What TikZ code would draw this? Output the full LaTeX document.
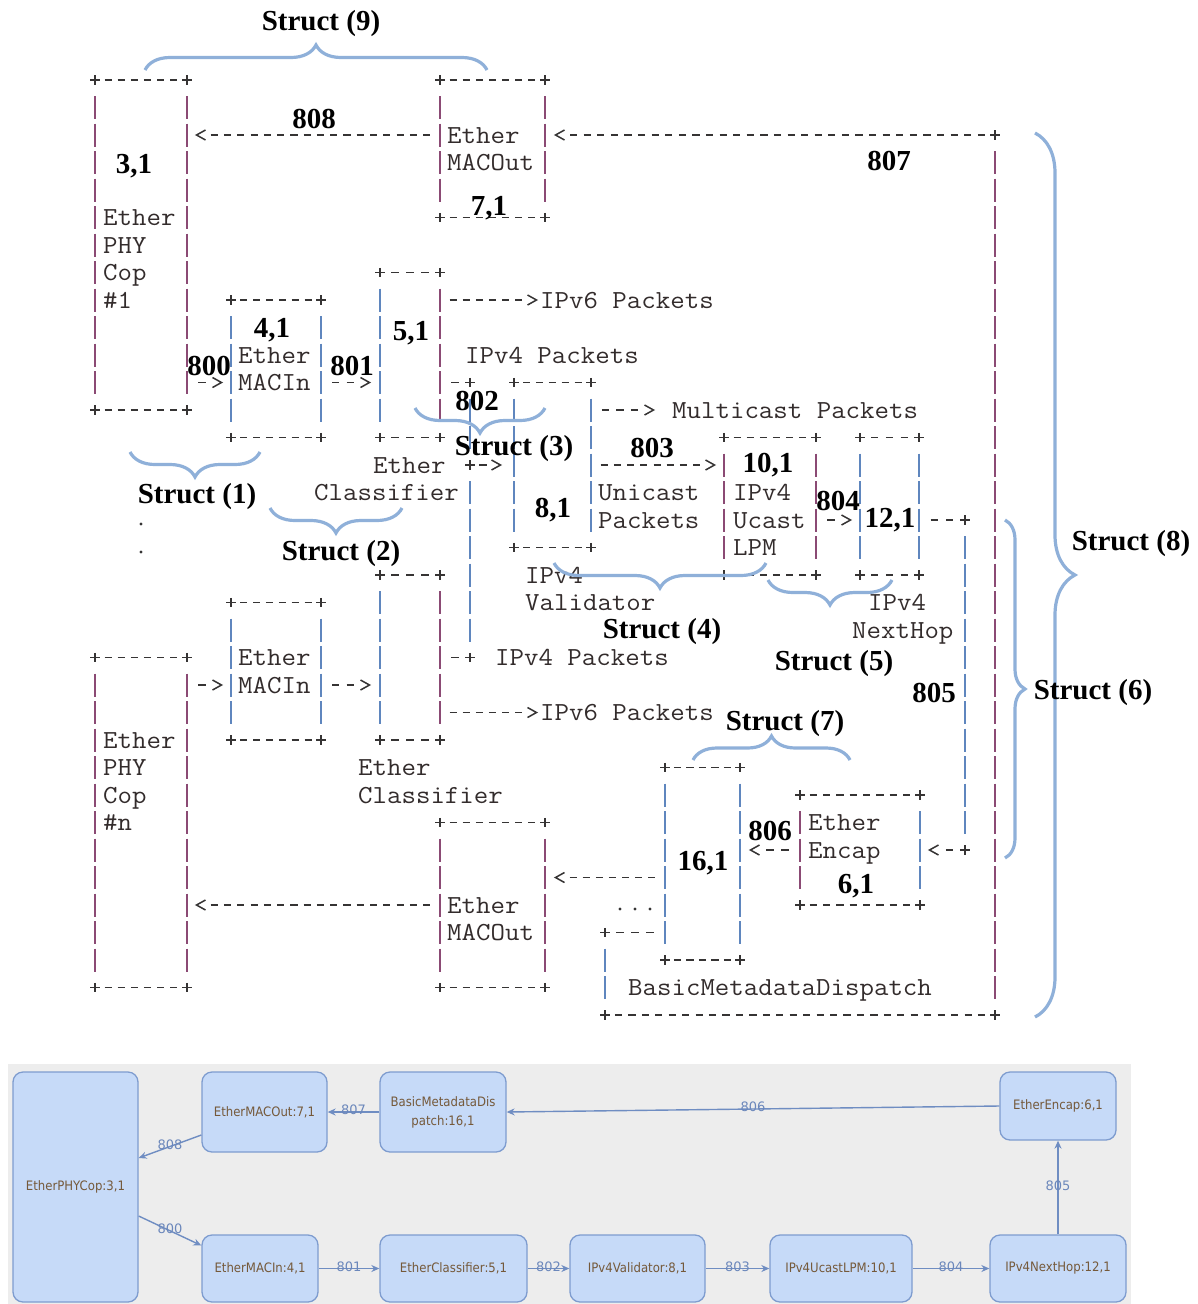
\documentclass[tikz,border=0pt]{standalone}
\usepackage{fontspec}
\usepackage{graphicx}
\usetikzlibrary{decorations.pathreplacing,arrows.meta}
\newfontfamily\labfont{Liberation Serif}
\newfontfamily\gfont{DejaVu Sans}

\definecolor{ink}{HTML}{363434}
\definecolor{txt}{HTML}{332C2C}
\definecolor{barP}{HTML}{8B4A74}
\definecolor{barB}{HTML}{5F86BE}
\definecolor{brcol}{HTML}{8FB0D9}
\definecolor{gbg}{HTML}{EDEDED}
\definecolor{gfill}{HTML}{C6DAF8}
\definecolor{gdraw}{HTML}{7E9CCF}
\definecolor{gtext}{HTML}{75593A}
\definecolor{gedgec}{HTML}{6F8DC2}
\definecolor{glabc}{HTML}{6B87BB}

\tikzset{
  asc/.style={draw=ink, line width=1.5pt},
  asctext/.style={anchor=base west, inner sep=0pt, text=txt,
    font=\ttfamily\fontsize{26}{26}\selectfont},
  lab/.style={anchor=base, inner sep=0pt,
    font=\labfont\bfseries\fontsize{29}{29}\selectfont},
  brc/.style={draw=brcol, line width=3.2pt, decorate,
    decoration={brace, amplitude=#1}},
  gnode/.style={draw=gdraw, fill=gfill, rounded corners=10pt, line width=1.3pt,
    text=gtext, font=\gfont\fontsize{13}{19}\selectfont, align=center, inner sep=0pt},
  gedge/.style={draw=gedgec, line width=1.4pt, -{Stealth[length=8pt,width=7pt]}},
  glab/.style={text=glabc, font=\gfont\fontsize{13}{13}\selectfont, inner sep=0pt, yshift=2pt}
}

% row r of the character grid sits at y = 80 + 27.5 r
\newcommand\HD[3]{% dashes strictly between x=#1 and x=#2 on row #3
  \pgfmathsetmacro\hdy{80+27.5*(#3)}%
  \pgfmathtruncatemacro\hdn{round((#2-(#1))/13.4)}%
  \pgfmathtruncatemacro\hdm{\hdn-1}%
  \pgfmathsetmacro\hds{(#2-(#1))/\hdn}%
  \foreach \k in {1,...,\hdm}{\draw[asc] ({#1+\k*\hds-3.6},\hdy) -- ++(7.2,0);}%
}
\newcommand\PL[2]{% a '+' at x=#1, row #2
  \pgfmathsetmacro\ply{80+27.5*(#2)}%
  \draw[asc] ({#1-4.6},\ply) -- ++(9.2,0) (#1,{\ply-4.6}) -- ++(0,9.2);}
\newcommand\VB[4]{% '|' at x=#1, rows #2..#3, colour #4
  \foreach \rr in {#2,...,#3}{\draw[#4,line width=1.6pt] (#1,{80+27.5*\rr-11.5}) -- ++(0,23);}}
\newcommand\RA[2]{% '>' centred at x=#1, row #2
  \pgfmathsetmacro\ay{80+27.5*(#2)}%
  \draw[asc,line join=miter] ({#1-4.5},{\ay-5}) -- ({#1+4.5},\ay) -- ({#1-4.5},{\ay+5});}
\newcommand\LA[2]{% '<' centred at x=#1, row #2
  \pgfmathsetmacro\ay{80+27.5*(#2)}%
  \draw[asc,line join=miter] ({#1+4.5},{\ay-5}) -- ({#1-4.5},\ay) -- ({#1+4.5},{\ay+5});}
\newcommand\BOX[6]{% x left, x right, top row, bottom row, left colour, right colour
  \pgfmathtruncatemacro\bxa{#3+1}\pgfmathtruncatemacro\bxb{#4-1}%
  \PL{#1}{#3}\PL{#2}{#3}\PL{#1}{#4}\PL{#2}{#4}%
  \HD{#1}{#2}{#3}\HD{#1}{#2}{#4}%
  \VB{#1}{\bxa}{\bxb}{#5}\VB{#2}{\bxa}{\bxb}{#6}}
\newcommand\TX[3]{\node[asctext] at (#1,{80+27.5*(#2)+8}) {\scalebox{1.08}[1]{#3}};}
\newcommand\LB[3]{\node[lab] at (#1,#2) {#3};}

\begin{document}
\begin{tikzpicture}[x=1pt,y=-1pt]
\fill[white] (0,0) rectangle (1197,1304);
\useasboundingbox (0,0) rectangle (1197,1304);

% ---------- character-art pipeline ----------
\BOX{95}{187}{0}{12}{barP}{barP}     % EtherPHYCop #1
\BOX{440}{545}{0}{5}{barP}{barP}     % EtherMACOut
\BOX{231}{321}{8}{13}{barB}{barB}    % EtherMACIn
\BOX{380}{440}{7}{13}{barB}{barP}    % EtherClassifier
\BOX{514}{591}{11}{17}{barB}{barB}   % IPv4Validator
\BOX{724}{816}{13}{18}{barP}{barP}   % IPv4UcastLPM
\BOX{860}{919}{13}{18}{barB}{barB}   % IPv4NextHop
\BOX{380}{440}{18}{24}{barB}{barP}   % EtherClassifier (n)
\BOX{231}{321}{19}{24}{barB}{barB}   % EtherMACIn (n)
\BOX{95}{187}{21}{33}{barP}{barP}    % EtherPHYCop #n
\BOX{440}{545}{27}{33}{barP}{barP}   % EtherMACOut (n)
\BOX{665}{740}{25}{32}{barB}{barB}   % BasicMetadataDispatch core
\BOX{800}{920}{26}{30}{barP}{barB}   % EtherEncap

% long runs
\VB{995}{3}{33}{barP}
\PL{995}{2}\PL{995}{34}\PL{605}{34}\HD{605}{995}{34}
\VB{965}{17}{27}{barB}\PL{965}{16}\PL{965}{28}
\VB{470}{12}{13}{barB}\VB{470}{15}{20}{barB}
\PL{470}{11}\PL{470}{14}\PL{470}{21}
\VB{605}{32}{33}{barB}\PL{605}{31}\HD{605}{665}{31}

% arrows
\LA{201}{2}\HD{201}{440}{2}
\LA{560}{2}\HD{560}{995}{2}
\HD{440}{532}{8}\RA{532}{8}
\HD{187}{217}{11}\RA{217}{11}
\HD{321}{365}{11}\RA{365}{11}
\HD{440}{470}{11}
\HD{591}{649}{12}\RA{649}{12}
\HD{470}{496}{14}\RA{496}{14}
\HD{591}{710}{14}\RA{710}{14}
\HD{816}{846}{16}\RA{846}{16}
\HD{919}{965}{16}
\HD{440}{470}{21}
\HD{187}{217}{22}\RA{217}{22}
\HD{321}{365}{22}\RA{365}{22}
\HD{440}{532}{23}\RA{532}{23}
\LA{755}{28}\HD{755}{800}{28}
\LA{934}{28}\HD{934}{965}{28}
\LA{560}{29}\HD{560}{665}{29}
\LA{201}{30}\HD{201}{440}{30}

% dots
\fill[ink] (141,524) circle (1.7pt) (141,552) circle (1.7pt);
\fill[ink] (620,909) circle (1.7pt) (635,909) circle (1.7pt) (650,909) circle (1.7pt);

% texts
\TX{447}{2}{Ether}\TX{447}{3}{MACOut}
\TX{103}{5}{Ether}\TX{103}{6}{PHY}\TX{103}{7}{Cop}\TX{103}{8}{\#1}
\TX{540}{8}{IPv6 Packets}
\TX{238}{10}{Ether}\TX{238}{11}{MACIn}
\TX{465}{10}{IPv4 Packets}
\TX{672}{12}{Multicast Packets}
\TX{373}{14}{Ether}\TX{314}{15}{Classifier}
\TX{598}{15}{Unicast}\TX{598}{16}{Packets}
\TX{733}{15}{IPv4}\TX{733}{16}{Ucast}\TX{733}{17}{LPM}
\TX{525}{18}{IPv4}\TX{525}{19}{Validator}
\TX{868}{19}{IPv4}\TX{852}{20}{NextHop}
\TX{238}{21}{Ether}\TX{238}{22}{MACIn}
\TX{495}{21}{IPv4 Packets}
\TX{540}{23}{IPv6 Packets}
\TX{103}{24}{Ether}\TX{103}{25}{PHY}\TX{103}{26}{Cop}\TX{103}{27}{\#n}
\TX{358}{25}{Ether}\TX{358}{26}{Classifier}
\TX{808}{27}{Ether}\TX{808}{28}{Encap}
\TX{447}{30}{Ether}\TX{447}{31}{MACOut}
\TX{628}{33}{BasicMetadataDispatch}

% ---------- braces ----------
\draw[brc=25pt] (145,70) -- (487,70);
\draw[brc=25pt] (260,452) -- (130,452);
\draw[brc=25pt] (402,508) -- (270,508);
\draw[brc=25pt] (545,408) -- (415,408);
\draw[brc=25pt] (766,563) -- (554,563);
\draw[brc=25pt] (892,580) -- (768,580);
\draw[brc=24pt] (693,760) -- (850,760);
\draw[brc=40pt] (1035,133) -- (1035,1017);
\draw[brc=20pt] (1005,520) -- (1005,858);

% ---------- bold annotations ----------
\LB{321}{30}{Struct (9)}
\LB{314}{128}{808}
\LB{134}{173}{3,1}
\LB{489}{215}{7,1}
\LB{889}{170}{807}
\LB{272}{337}{4,1}
\LB{411}{340}{5,1}
\LB{209}{375}{800}
\LB{352}{375}{801}
\LB{477}{410}{802}
\LB{514}{455}{Struct (3)}
\LB{197}{503}{Struct (1)}
\LB{341}{560}{Struct (2)}
\LB{652}{457}{803}
\LB{768}{472}{10,1}
\LB{838}{510}{804}
\LB{890}{527}{12,1}
\LB{553}{517}{8,1}
\LB{662}{638}{Struct (4)}
\LB{834}{670}{Struct (5)}
\LB{934}{702}{805}
\LB{785}{730}{Struct (7)}
\LB{770}{840}{806}
\LB{703}{870}{16,1}
\LB{856}{893}{6,1}
\LB{1131}{550}{Struct (8)}
\LB{1093}{699}{Struct (6)}

% ---------- element graph ----------
\fill[gbg] (8,1064) rectangle (1131,1304);
\node[gnode, minimum width=125pt, minimum height=230pt] (phy) at (75.5,1187) {\scalebox{0.9}[1]{EtherPHYCop:3,1}};
\node[gnode, minimum width=125pt, minimum height=80pt] (mout) at (264.5,1112) {\scalebox{0.9}[1]{EtherMACOut:7,1}};
\node[gnode, minimum width=126pt, minimum height=80pt] (bmd) at (443,1112) {\scalebox{0.9}[1]{BasicMetadataDis}\\\scalebox{0.9}[1]{patch:16,1}};
\node[gnode, minimum width=116pt, minimum height=68pt] (enc) at (1058,1106) {\scalebox{0.9}[1]{EtherEncap:6,1}};
\node[gnode, minimum width=116pt, minimum height=67pt] (min) at (260,1268.5) {\scalebox{0.9}[1]{EtherMACIn:4,1}};
\node[gnode, minimum width=147pt, minimum height=67pt] (cls) at (453.5,1268.5) {\scalebox{0.9}[1]{EtherClassifier:5,1}};
\node[gnode, minimum width=135pt, minimum height=67pt] (val) at (637.5,1268.5) {\scalebox{0.9}[1]{IPv4Validator:8,1}};
\node[gnode, minimum width=142pt, minimum height=67pt] (lpm) at (841,1268.5) {\scalebox{0.9}[1]{IPv4UcastLPM:10,1}};
\node[gnode, minimum width=136pt, minimum height=67pt] (nh) at (1058,1268.5) {\scalebox{0.9}[1]{IPv4NextHop:12,1}};

\draw[gedge] ([yshift=-23pt]mout.west) -- node[glab]{808} ([yshift=29pt]phy.east);
\draw[gedge] (bmd.west) -- node[glab]{807} (mout.east);
\draw[gedge] (enc.west) -- node[glab]{806} (bmd.east);
\draw[gedge] ([yshift=-29pt]phy.east) -- node[glab]{800} ([yshift=23pt]min.west);
\draw[gedge] (min.east) -- node[glab]{801} (cls.west);
\draw[gedge] (cls.east) -- node[glab]{802} (val.west);
\draw[gedge] (val.east) -- node[glab]{803} (lpm.west);
\draw[gedge] (lpm.east) -- node[glab]{804} (nh.west);
\draw[gedge] (nh.north) -- node[glab]{805} (enc.south);
\end{tikzpicture}
\end{document}
